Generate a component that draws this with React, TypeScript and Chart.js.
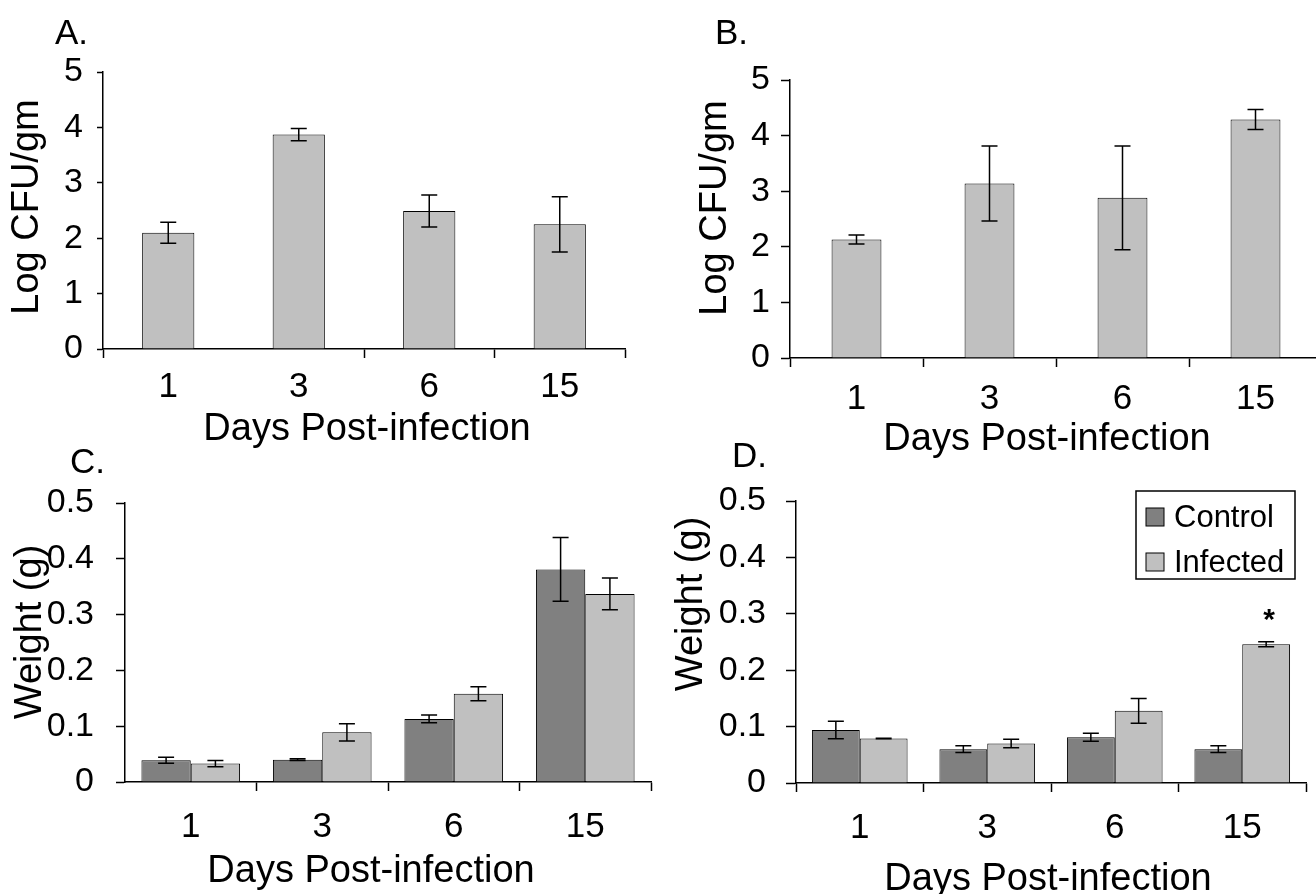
import React, { useEffect, useRef } from 'react';
import { Chart, registerables } from 'chart.js';

Chart.register(...registerables);

// ---------------- data ----------------
const days = ['1', '3', '6', '15'];
const seriesNames = ['Control', 'Infected'];

// Panel A: Log CFU/gm
const cfuA = [2.1, 3.87, 2.49, 2.25];
const cfuAErr = [0.19, 0.11, 0.29, 0.5];

// Panel B: Log CFU/gm
const cfuB = [2.13, 3.14, 2.88, 4.29];
const cfuBErr = [0.08, 0.675, 0.935, 0.18];

// Panel C: Weight (g)
const weightCControl = [0.039, 0.04, 0.113, 0.381];
const weightCControlErr = [0.0055, 0.0015, 0.007, 0.057];
const weightCInfected = [0.033, 0.089, 0.158, 0.337];
const weightCInfectedErr = [0.0055, 0.0155, 0.0125, 0.0285];

// Panel D: Weight (g)
const weightDControl = [0.094, 0.06, 0.081, 0.06];
const weightDControlErr = [0.0155, 0.006, 0.007, 0.006];
const weightDInfected = [0.079, 0.07, 0.128, 0.246];
const weightDInfectedErr = [0.0005, 0.0075, 0.022, 0.0045];
const significanceD = ['', '', '', '*'];

// tick labels
const cfuTicks = [0, 1, 2, 3, 4, 5];
const weightTicks = [0, 0.1, 0.2, 0.3, 0.4, 0.5];

// ---------------- styling / layout ----------------
const FONT = "'Liberation Sans', Arial, Helvetica, sans-serif";
const CW = 1330;
const CH = 894;
const XH = 60;
const TICK_SIZE = 35;
const TITLE_SIZE = 38;
const DARK = '#808080';
const LIGHT = '#C0C0C0';

const errorBarPlugin = {
  id: 'errorBars',
  afterDatasetsDraw(chart: any, _args: any, opts: any) {
    const errs: number[][] = opts.errors || [];
    const ctx = chart.ctx;
    const y = chart.scales.y;
    const cap = opts.cap || 8;
    chart.data.datasets.forEach((ds: any, di: number) => {
      const e = errs[di];
      if (!e) return;
      const meta = chart.getDatasetMeta(di);
      meta.data.forEach((bar: any, i: number) => {
        const v = ds.data[i];
        const yHi = y.getPixelForValue(v + e[i]);
        const yLo = y.getPixelForValue(v - e[i]);
        const x = bar.x;
        ctx.save();
        ctx.strokeStyle = '#000';
        ctx.lineWidth = 1.5;
        ctx.beginPath();
        ctx.moveTo(x, yHi);
        ctx.lineTo(x, yLo);
        ctx.moveTo(x - cap, yHi);
        ctx.lineTo(x + cap, yHi);
        ctx.moveTo(x - cap, yLo);
        ctx.lineTo(x + cap, yLo);
        ctx.stroke();
        ctx.restore();
      });
    });
  },
};

const panelTextPlugin = {
  id: 'panelText',
  afterDraw(chart: any, _args: any, opts: any) {
    const ctx = chart.ctx;
    ctx.save();
    ctx.fillStyle = '#000';
    if (opts.letter) {
      ctx.font = `35px ${FONT}`;
      ctx.textAlign = 'left';
      ctx.textBaseline = 'alphabetic';
      ctx.fillText(opts.letter.text, opts.letter.x, opts.letter.y);
    }
    if (opts.xTitle) {
      ctx.font = `${TITLE_SIZE}px ${FONT}`;
      ctx.textAlign = 'center';
      ctx.textBaseline = 'alphabetic';
      ctx.fillText(opts.xTitle.text, opts.xTitle.x, opts.xTitle.y);
    }
    if (opts.yTitle) {
      ctx.save();
      ctx.font = `${TITLE_SIZE}px ${FONT}`;
      ctx.translate(opts.yTitle.x, opts.yTitle.y);
      ctx.rotate(-Math.PI / 2);
      ctx.textAlign = 'center';
      ctx.textBaseline = 'middle';
      ctx.fillText(opts.yTitle.text, 0, 0);
      ctx.restore();
    }
    if (opts.stars) {
      const st = opts.stars;
      const meta = chart.getDatasetMeta(st.dataset);
      const ds = chart.data.datasets[st.dataset];
      const y = chart.scales.y;
      ctx.font = `bold 30px ${FONT}`;
      ctx.textAlign = 'center';
      ctx.textBaseline = 'alphabetic';
      meta.data.forEach((bar: any, i: number) => {
        const m = st.marks[i];
        if (!m) return;
        const top = ds.data[i] + (st.errors ? st.errors[i] : 0);
        ctx.fillText(m, bar.x + 3, y.getPixelForValue(top) - st.gap);
      });
    }
    if (opts.legend) {
      const lg = opts.legend;
      ctx.strokeStyle = '#000';
      ctx.lineWidth = 1.5;
      ctx.strokeRect(lg.x, lg.y, lg.w, lg.h);
      ctx.font = `31px ${FONT}`;
      ctx.textAlign = 'left';
      ctx.textBaseline = 'middle';
      chart.data.datasets.forEach((ds: any, i: number) => {
        const cy = lg.rows[i];
        ctx.fillStyle = ds.backgroundColor;
        ctx.fillRect(lg.x + 10, cy - 9, 18, 18);
        ctx.lineWidth = 1;
        ctx.strokeRect(lg.x + 10, cy - 9, 18, 18);
        ctx.fillStyle = '#000';
        ctx.fillText(ds.label, lg.x + 38, cy + 1);
      });
    }
    ctx.restore();
  },
};

type Panel = {
  series: { label: string; data: number[]; color: string }[];
  errors: number[][];
  yTicks: number[];
  fmt: (v: number) => string;
  area: { l: number; r: number; t: number; b: number };
  catPct: number;
  yTickLen: number;
  yTickPad: number;
  xTickLen: number;
  xTickPad: number;
  hiddenXTicks: number[];
  letter: any;
  xTitle: any;
  yTitle: any;
  legend?: any;
  stars?: any;
};

const fmtInt = (v: number) => String(v);
const fmtDec = (v: number) => (v === 0 ? '0' : v.toFixed(1));

const panels: Panel[] = [
  {
    series: [{ label: 'Infected', data: cfuA, color: LIGHT }],
    errors: [cfuAErr],
    yTicks: cfuTicks,
    fmt: fmtInt,
    area: { l: 103, r: 625, t: 72, b: 349 },
    catPct: 0.4,
    yTickLen: 6,
    yTickPad: 14,
    xTickLen: 9,
    xTickPad: 12,
    hiddenXTicks: [1],
    letter: { text: 'A.', x: 55, y: 44 },
    xTitle: { text: 'Days Post-infection', x: 367, y: 440 },
    yTitle: { text: 'Log CFU/gm', x: 28, y: 207 },
  },
  {
    series: [{ label: 'Infected', data: cfuB, color: LIGHT }],
    errors: [cfuBErr],
    yTicks: cfuTicks,
    fmt: fmtInt,
    area: { l: 790, r: 1322, t: 80, b: 358 },
    catPct: 0.375,
    yTickLen: 9,
    yTickPad: 11,
    xTickLen: 9,
    xTickPad: 15,
    hiddenXTicks: [],
    letter: { text: 'B.', x: 715, y: 44 },
    xTitle: { text: 'Days Post-infection', x: 1047, y: 450 },
    yTitle: { text: 'Log CFU/gm', x: 716, y: 208 },
  },
  {
    series: [
      { label: seriesNames[0], data: weightCControl, color: DARK },
      { label: seriesNames[1], data: weightCInfected, color: LIGHT },
    ],
    errors: [weightCControlErr, weightCInfectedErr],
    yTicks: weightTicks,
    fmt: fmtDec,
    area: { l: 125, r: 651, t: 503, b: 782 },
    catPct: 0.75,
    yTickLen: 9,
    yTickPad: 22,
    xTickLen: 9,
    xTickPad: 19,
    hiddenXTicks: [0],
    letter: { text: 'C.', x: 70, y: 473 },
    xTitle: { text: 'Days Post-infection', x: 371, y: 882 },
    yTitle: { text: 'Weight (g)', x: 31, y: 632 },
  },
  {
    series: [
      { label: seriesNames[0], data: weightDControl, color: DARK },
      { label: seriesNames[1], data: weightDInfected, color: LIGHT },
    ],
    errors: [weightDControlErr, weightDInfectedErr],
    yTicks: weightTicks,
    fmt: fmtDec,
    area: { l: 796, r: 1306, t: 501, b: 783 },
    catPct: 0.75,
    yTickLen: 10,
    yTickPad: 20,
    xTickLen: 9,
    xTickPad: 19,
    hiddenXTicks: [],
    letter: { text: 'D.', x: 732, y: 467 },
    xTitle: { text: 'Days Post-infection', x: 1048, y: 890 },
    yTitle: { text: 'Weight (g)', x: 692, y: 604 },
    legend: { x: 1136, y: 491, w: 159, h: 88, rows: [517, 562] },
    stars: { dataset: 1, marks: significanceD, errors: weightDInfectedErr, gap: 13 },
  },
];

function buildConfig(p: Panel): any {
  const { l, r, t, b } = p.area;
  const padLeft = Math.max(0, l - 130);
  const yw = l - padLeft;
  return {
    type: 'bar',
    data: {
      labels: days,
      datasets: p.series.map((s) => ({
        label: s.label,
        data: s.data,
        backgroundColor: s.color,
        borderColor: '#000',
        borderWidth: 1,
        categoryPercentage: p.catPct,
        barPercentage: 1,
      })),
    },
    plugins: [errorBarPlugin, panelTextPlugin],
    options: {
      responsive: false,
      animation: false,
      devicePixelRatio: 1,
      layout: {
        padding: { left: padLeft, top: t, right: CW - r, bottom: CH - b - XH },
      },
      plugins: {
        legend: { display: false },
        tooltip: { enabled: false },
        title: { display: false },
        errorBars: { errors: p.errors, cap: 8 },
        panelText: {
          letter: p.letter,
          xTitle: p.xTitle,
          yTitle: p.yTitle,
          legend: p.legend,
          stars: p.stars,
        },
      },
      scales: {
        x: {
          type: 'category',
          offset: true,
          afterFit: (s: any) => {
            s.height = XH;
          },
          grid: {
            offset: true,
            drawOnChartArea: false,
            drawTicks: true,
            tickLength: p.xTickLen,
            tickWidth: 1.5,
            tickColor: (c: any) => (p.hiddenXTicks.includes(c.index) ? 'rgba(0,0,0,0)' : '#000'),
          },
          border: { display: true, color: '#000', width: 1.5 },
          ticks: {
            color: '#000',
            padding: p.xTickPad,
            maxRotation: 0,
            autoSkip: false,
            font: { family: FONT, size: TICK_SIZE, lineHeight: 1 },
          },
        },
        y: {
          type: 'linear',
          min: p.yTicks[0],
          max: p.yTicks[p.yTicks.length - 1],
          afterFit: (s: any) => {
            s.width = yw;
          },
          afterBuildTicks: (s: any) => {
            s.ticks = p.yTicks.map((v) => ({ value: v }));
          },
          grid: {
            drawOnChartArea: false,
            drawTicks: true,
            tickLength: p.yTickLen,
            tickWidth: 1.5,
            tickColor: '#000',
          },
          border: { display: true, color: '#000', width: 1.5 },
          ticks: {
            color: '#000',
            padding: p.yTickPad,
            callback: (v: any) => p.fmt(Number(v)),
            font: { family: FONT, size: TICK_SIZE - 1, lineHeight: 1 },
          },
        },
      },
    },
  };
}

function PanelChart({ p }: { p: Panel }) {
  const ref = useRef<HTMLCanvasElement | null>(null);
  useEffect(() => {
    if (!ref.current) return;
    const chart = new Chart(ref.current, buildConfig(p));
    return () => chart.destroy();
  }, [p]);
  return (
    <canvas
      ref={ref}
      width={CW}
      height={CH}
      style={{ position: 'absolute', left: 0, top: 0, width: CW, height: CH }}
    />
  );
}

export default function App() {
  return (
    <div
      style={{
        position: 'absolute',
        left: 0,
        top: 0,
        width: 1316,
        height: 894,
        overflow: 'hidden',
        background: '#fff',
      }}
    >
      {panels.map((p, i) => (
        <PanelChart key={i} p={p} />
      ))}
    </div>
  );
}
